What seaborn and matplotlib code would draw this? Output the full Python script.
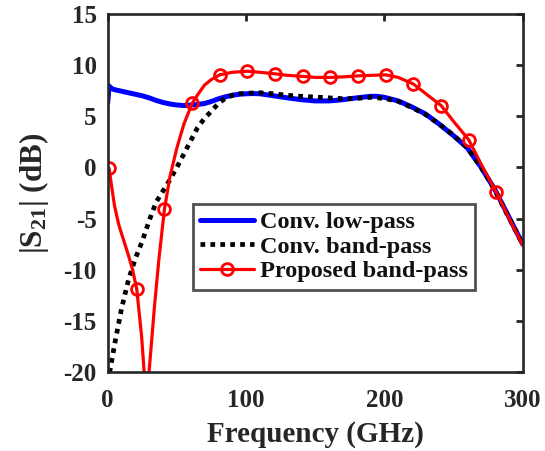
import matplotlib
matplotlib.use("Agg")
import matplotlib.pyplot as plt
import seaborn as sns
import pandas as pd

# Conventional low-pass response
f_lp = [0, 1, 3, 5, 10, 15, 20, 25, 30, 35, 40, 45, 50, 55, 60, 65, 70, 75, 80, 85,
        90, 95, 100, 105, 110, 120, 130, 140, 150, 160, 170, 180, 190, 195, 200,
        210, 220, 230, 240, 250, 260, 270, 280, 290, 300]
s21_lp = [6.3, 7.95, 7.7, 7.6, 7.45, 7.3, 7.15, 7.0, 6.8, 6.55, 6.35, 6.2, 6.1, 6.05,
          6.1, 6.15, 6.25, 6.45, 6.7, 6.9, 7.05, 7.15, 7.2, 7.22, 7.2, 7.0, 6.8, 6.62,
          6.5, 6.5, 6.62, 6.8, 6.95, 6.95, 6.85, 6.5, 5.9, 5.2, 4.2, 3.1, 1.9, 0.0,
          -2.2, -4.85, -7.5]

# Conventional band-pass response
f_bp = [0, 2, 5, 10, 15, 20, 25, 30, 35, 40, 45, 50, 55, 60, 65, 70, 75, 80, 85, 90,
        95, 100, 110, 120, 130, 140, 150, 160, 170, 180, 190, 200, 210, 220, 230, 240,
        250, 260, 270, 280, 290, 300]
s21_bp = [-21.0, -19.6, -17.3, -13.8, -11.0, -8.9, -7.2, -5.2, -3.4, -2.3, -1.2, 0.0,
          1.3, 2.6, 3.9, 4.8, 5.5, 6.25, 6.75, 7.05, 7.2, 7.25, 7.3, 7.2, 7.05, 6.95,
          6.88, 6.8, 6.72, 6.75, 6.85, 6.75, 6.45, 5.85, 5.15, 4.2, 3.15, 1.9, 0.0,
          -2.25, -4.9, -7.5]

# Proposed band-pass response
f_pr = [1, 3, 5, 8, 11, 15, 18, 21, 24.5, 28, 31, 34, 37, 41, 45, 50, 55, 61, 65, 70,
        75, 81, 90, 101, 110, 121, 130, 141, 150, 161, 170, 181, 190, 201, 210, 221,
        230, 241, 250, 261, 270, 281, 290, 300]
s21_pr = [-0.1, -2.0, -3.8, -5.6, -6.9, -8.6, -10.0, -11.9, -16.5, -23.1, -18.2,
          -13.3, -9.0, -4.1, -0.9, 1.9, 4.2, 6.25, 7.1, 8.05, 8.6, 9.05, 9.3, 9.4,
          9.3, 9.15, 9.0, 8.9, 8.8, 8.8, 8.85, 8.95, 9.0, 9.05, 8.8, 8.15, 7.2, 6.05,
          4.5, 2.7, 0.3, -2.45, -4.95, -7.6]
marker_freqs = [1, 21, 41, 61, 81, 101, 121, 141, 161, 181, 201, 221, 241, 261, 281]

labels = ["Conv. low-pass", "Conv. band-pass", "Proposed band-pass"]

sns.set_theme(style="white")
plt.rcParams["font.family"] = ["Liberation Serif", "DejaVu Serif"]
plt.rcParams["font.weight"] = "bold"
plt.rcParams["axes.labelweight"] = "bold"
plt.rcParams["axes.unicode_minus"] = False
plt.rcParams["mathtext.fontset"] = "custom"
plt.rcParams["mathtext.rm"] = "Liberation Serif:bold"
plt.rcParams["mathtext.it"] = "Liberation Serif:bold"
plt.rcParams["mathtext.bf"] = "Liberation Serif:bold"

fig = plt.figure(figsize=(5.45, 4.51), dpi=100)
ax = fig.add_axes([0.1976, 0.1752, 0.7615, 0.7938])

df_lp = pd.DataFrame({"f": f_lp, "s21": s21_lp})
df_bp = pd.DataFrame({"f": f_bp, "s21": s21_bp})
df_pr = pd.DataFrame({"f": f_pr, "s21": s21_pr})

sns.lineplot(data=df_lp, x="f", y="s21", ax=ax, color="#0000ff", lw=3.6,
             estimator=None, sort=False, label=labels[0])
sns.lineplot(data=df_bp, x="f", y="s21", ax=ax, color="black", lw=3.4,
             estimator=None, sort=False, linestyle=(0, (1.0, 1.1)),
             label=labels[1])
mark_idx = [f_pr.index(m) for m in marker_freqs]
sns.lineplot(data=df_pr, x="f", y="s21", ax=ax, color="#ff0000", lw=2.3,
             estimator=None, sort=False, marker="o", markevery=mark_idx,
             markersize=8.5, markerfacecolor="none", markeredgecolor="#ff0000",
             markeredgewidth=2.0, label=labels[2])

ax.set_xlim(0, 300)
ax.set_ylim(-20, 15)
ax.set_xticks([0, 100, 200, 300])
ax.set_yticks([-20, -15, -10, -5, 0, 5, 10, 15])
ax.tick_params(direction="in", top=True, right=True, length=5, width=2,
               color="#262626", labelsize=18, labelcolor="#262626")
ax.tick_params(axis="x", pad=12)
ax.tick_params(axis="y", pad=8)
for lab in ax.get_xticklabels() + ax.get_yticklabels():
    lab.set_fontweight("bold")
for sp in ax.spines.values():
    sp.set_linewidth(1.9)
    sp.set_color("#262626")

ax.set_xlabel("Frequency (GHz)", fontsize=21, fontweight="bold", color="#262626",
              labelpad=7)
ax.set_ylabel(r"|S$_{21}$| (dB)", fontsize=22.5, fontweight="bold", color="#262626",
              labelpad=9)

leg = ax.legend(loc="upper left", bbox_to_anchor=(0.206, 0.469), fontsize=17.5,
                frameon=True, fancybox=False, numpoints=1, handlelength=2.2,
                handletextpad=0.25, borderpad=0.3, labelspacing=0.1,
                borderaxespad=0)
leg.get_frame().set_edgecolor("#262626")
leg.get_frame().set_linewidth(2.0)
for t in leg.get_texts():
    t.set_fontweight("bold")
    t.set_color("#111111")

fig.savefig("out.png", dpi=100)
